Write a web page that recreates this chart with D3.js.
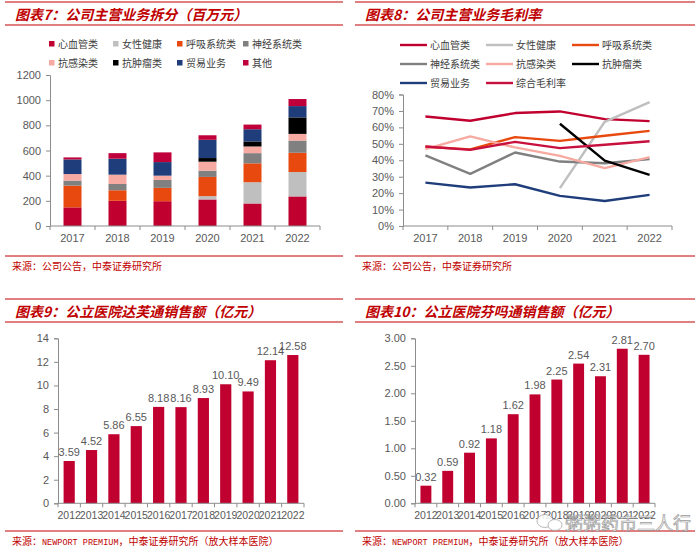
<!DOCTYPE html>
<html><head><meta charset="utf-8">
<script src="https://cdn.jsdelivr.net/npm/d3@7"></script>
<style>
body{margin:0;background:#fff;}
svg{display:block;}
text{font-family:"Liberation Sans",Arial,"Noto Sans CJK SC",sans-serif;}
.cn{font-family:"Noto Sans CJK SC",sans-serif;}
</style></head>
<body><svg id="c" width="700" height="554"></svg>
<script>
// ---------- data ----------
const years7 = ["2017","2018","2019","2020","2021","2022"];
const seriesNames = ["心血管类","女性健康","呼吸系统类","神经系统类","抗感染类","抗肿瘤类","贸易业务","其他"];
const cardio  = [148,200,197,211,179,235];
const women   = [0,0,0,26,169,194];
const resp    = [173,84,106,153,150,153];
const neuro   = [40,50,63,50,81,97];
const antiInf = [52,74,34,71,53,53];
const onco    = [0,0,0,29,40,131];
const trade   = [116,127,108,145,97,90];
const other   = [16,44,77,36,37,56];
const ticks7  = [0,200,400,600,800,1000,1200];

const lineNames = ["心血管类","女性健康","呼吸系统类","神经系统类","抗感染类","抗肿瘤类","贸易业务","综合毛利率"];
const cardioM  = [66.6,64.0,68.7,69.7,65.0,63.8];
const womenM   = [null,null,null,23.0,63.4,75.4];
const respM    = [48.2,46.6,54.1,51.8,54.9,57.9];
const neuroM   = [42.9,31.7,44.7,39.2,38.2,40.7];
const antiInfM = [46.8,54.5,47.8,42.7,35.2,41.9];
const oncoM    = [null,null,null,62.2,39.8,31.1];
const tradeM   = [26.4,23.4,25.4,18.3,15.2,18.9];
const totalM   = [48.4,46.3,51.2,47.4,49.4,51.6];
const ticks8   = [0,10,20,30,40,50,60,70,80];

const years9 = ["2012","2013","2014","2015","2016","2017","2018","2019","2020","2021","2022"];
const sales9 = [3.59,4.52,5.86,6.55,8.18,8.16,8.93,10.10,9.49,12.14,12.58];
const labels9 = ["3.59","4.52","5.86","6.55","8.18","8.16","8.93","10.10","9.49","12.14","12.58"];
const ticks9 = [0,2,4,6,8,10,12,14];
const sales10 = [0.32,0.59,0.92,1.18,1.62,1.98,2.25,2.54,2.31,2.81,2.70];
const labels10 = ["0.32","0.59","0.92","1.18","1.62","1.98","2.25","2.54","2.31","2.81","2.70"];
const ticks10 = [0,0.5,1,1.5,2,2.5,3];

const barColors = ["#C0002F","#BFBFBF","#E8490F","#808080","#F6AAA1","#000000","#1F3D7A","#C0003A"];
const lineColors = ["#C0002F","#BFBFBF","#E8490F","#808080","#F6AAA1","#000000","#1F3D7A","#C8103F"];
const RED = "#C00000", TXT = "#595959", AX = "#8C8C8C";

const svg = d3.select("#c");

// ---------- panel frames ----------
function frame(x0,x1,yTop,yTitleLine,title,ySrcLine,src){
  svg.append("line").attr("x1",x0).attr("x2",x1).attr("y1",yTop).attr("y2",yTop).attr("stroke",RED).attr("stroke-width",1.2);
  svg.append("line").attr("x1",x0).attr("x2",x1).attr("y1",yTitleLine).attr("y2",yTitleLine).attr("stroke",RED).attr("stroke-width",1.2);
  svg.append("text").attr("class","cn").attr("x",x0+10).attr("y",yTitleLine-5)
    .attr("fill",RED).attr("font-size",14).attr("font-weight","bold").attr("font-style","italic")
    .style("font-family","'Noto Sans CJK SC',sans-serif").text(title);
  svg.append("line").attr("x1",x0).attr("x2",x1).attr("y1",ySrcLine).attr("y2",ySrcLine).attr("stroke",RED).attr("stroke-width",1);
  const t = svg.append("text").attr("x",x0+7).attr("y",ySrcLine+14).attr("fill",RED).attr("font-size",10)
    .style("font-family","'Noto Sans CJK SC',sans-serif");
  src.forEach(s=>{ t.append("tspan").text(s.t).style("font-family",s.mono?"'Liberation Mono',monospace":"'Noto Sans CJK SC',sans-serif").attr("font-size",s.mono?8.5:10); });
}
frame(5,343,2,25,"图表7：公司主营业务拆分（百万元）",256,[{t:"来源：公司公告，中泰证券研究所"}]);
frame(355,695,2,25,"图表8：公司主营业务毛利率",256,[{t:"来源：公司公告，中泰证券研究所"}]);
frame(5,343,299,322,"图表9：公立医院达芙通销售额（亿元）",531,[{t:"来源："},{t:"NEWPORT PREMIUM",mono:true},{t:"，中泰证券研究所（放大样本医院）"}]);
frame(355,695,299,322,"图表10：公立医院芬吗通销售额（亿元）",531,[{t:"来源："},{t:"NEWPORT PREMIUM",mono:true},{t:"，中泰证券研究所（放大样本医院）"}]);

function yAxis(scale,x,ticks,fmt){
  const g = svg.append("g").attr("transform",`translate(${x},0)`)
    .call(d3.axisLeft(scale).tickValues(ticks).tickSize(4).tickPadding(5).tickFormat(fmt));
  g.select(".domain").attr("stroke",AX);
  g.selectAll(".tick line").attr("stroke",AX);
  g.selectAll(".tick text").attr("fill",TXT).attr("font-size",11);
}
function xAxisBand(scale,y,fs,ticksBoundaries){
  const r = scale.range();
  svg.append("line").attr("x1",r[0]).attr("x2",r[1]).attr("y1",y).attr("y2",y).attr("stroke",AX);
  const step = scale.step();
  const dom = scale.domain();
  const first = scale(dom[0]) - (step - scale.bandwidth())/2;
  for(let i=0;i<=dom.length;i++){
    const xx = first + i*step;
    svg.append("line").attr("x1",xx).attr("x2",xx).attr("y1",y).attr("y2",y+4).attr("stroke",AX);
  }
  svg.append("g").selectAll("text").data(dom).join("text")
    .attr("x",d=>scale(d)+scale.bandwidth()/2).attr("y",y+16).attr("text-anchor","middle")
    .attr("fill",TXT).attr("font-size",fs).text(d=>d);
}

// ---------- chart 7 : stacked bars ----------
{
  const x = d3.scaleBand().domain(years7).range([50,320]).paddingInner(0.6).paddingOuter(0.3);
  const y = d3.scaleLinear().domain([0,1200]).range([226,75]);
  const arrs = [cardio,women,resp,neuro,antiInf,onco,trade,other];
  const rows = years7.map((yr,i)=>{ const o={year:yr}; seriesNames.forEach((k,j)=>o[k]=arrs[j][i]); return o; });
  const stack = d3.stack().keys(seriesNames)(rows);
  svg.append("g").selectAll("g").data(stack).join("g").attr("fill",(d,i)=>barColors[i])
    .selectAll("rect").data(d=>d).join("rect")
    .attr("x",d=>x(d.data.year)).attr("width",x.bandwidth())
    .attr("y",d=>y(d[1])).attr("height",d=>y(d[0])-y(d[1]));
  yAxis(y,50,ticks7,d3.format("d"));
  xAxisBand(x,226,11);
  // legend
  const lx=[49,113,177,243], ly=[44,63];
  seriesNames.forEach((n,i)=>{
    const cx=lx[i%4], cy=ly[Math.floor(i/4)];
    svg.append("rect").attr("x",cx).attr("y",cy-3).attr("width",5.5).attr("height",5.5).attr("fill",barColors[i]);
    svg.append("text").attr("class","cn").attr("x",cx+9).attr("y",cy+3.5).attr("font-size",10).attr("fill","#404040").text(n);
  });
}

// ---------- chart 8 : lines ----------
{
  const x = d3.scalePoint().domain(years7).range([403,672]).padding(0.5);
  const y = d3.scaleLinear().domain([0,80]).range([226,94.5]);
  const arrs = [cardioM,womenM,respM,neuroM,antiInfM,oncoM,tradeM,totalM];
  const line = d3.line().defined(d=>d.v!=null).x(d=>x(d.yr)).y(d=>y(d.v));
  arrs.forEach((a,i)=>{
    svg.append("path").datum(years7.map((yr,j)=>({yr,v:a[j]})))
      .attr("d",line).attr("fill","none").attr("stroke",lineColors[i]).attr("stroke-width",2.4).attr("stroke-linejoin","round");
  });
  yAxis(y,403,ticks8,d=>d+"%");
  const xb = d3.scaleBand().domain(years7).range([403,672]);
  xAxisBand(xb,226,11);
  const lx=[400,486,572], ly=[45,64,83];
  lineNames.forEach((n,i)=>{
    const cx=lx[i%3], cy=ly[Math.floor(i/3)];
    svg.append("line").attr("x1",cx).attr("x2",cx+27).attr("y1",cy).attr("y2",cy).attr("stroke",lineColors[i]).attr("stroke-width",2.4);
    svg.append("text").attr("class","cn").attr("x",cx+30).attr("y",cy+3.5).attr("font-size",10).attr("fill","#404040").text(n);
  });
}

// ---------- chart 9 & 10 : bars with labels ----------
function barChart(x0,x1,vals,labs,domMax,ticks,fmt){
  const x = d3.scaleBand().domain(years9).range([x0,x1]).paddingInner(0.5).paddingOuter(0.25);
  const y = d3.scaleLinear().domain([0,domMax]).range([503.3,338.3]);
  svg.append("g").selectAll("rect").data(vals).join("rect")
    .attr("x",(d,i)=>x(years9[i])).attr("width",x.bandwidth())
    .attr("y",d=>y(d)).attr("height",d=>503.3-y(d)).attr("fill","#C0002F");
  svg.append("g").selectAll("text").data(vals).join("text")
    .attr("x",(d,i)=>x(years9[i])+x.bandwidth()/2).attr("y",d=>y(d)-5).attr("text-anchor","middle")
    .attr("fill",TXT).attr("font-size",11).text((d,i)=>labs[i]);
  yAxis(y,x0,ticks,fmt);
  xAxisBand(x,503.3,10.5);
}
barChart(58,304,sales9,labels9,14,ticks9,d3.format("d"));
barChart(415,655,sales10,labels10,3,ticks10,d3.format(".2f"));

// ---------- watermark ----------
{
  const g = svg.append("g").attr("opacity",0.85);
  g.append("ellipse").attr("cx",545).attr("cy",521).attr("rx",8).attr("ry",6.5).attr("fill","#fff").attr("stroke","#999").attr("stroke-width",0.8);
  g.append("ellipse").attr("cx",555).attr("cy",525).attr("rx",7).attr("ry",5.5).attr("fill","#fff").attr("stroke","#999").attr("stroke-width",0.8);
  g.append("text").attr("class","cn").attr("x",565).attr("y",530).attr("font-size",18)
    .attr("fill","#f4f4f4").attr("stroke","#8a8a8a").attr("stroke-width",0.7).text("粥粥药市三人行");
}
</script></body></html>
